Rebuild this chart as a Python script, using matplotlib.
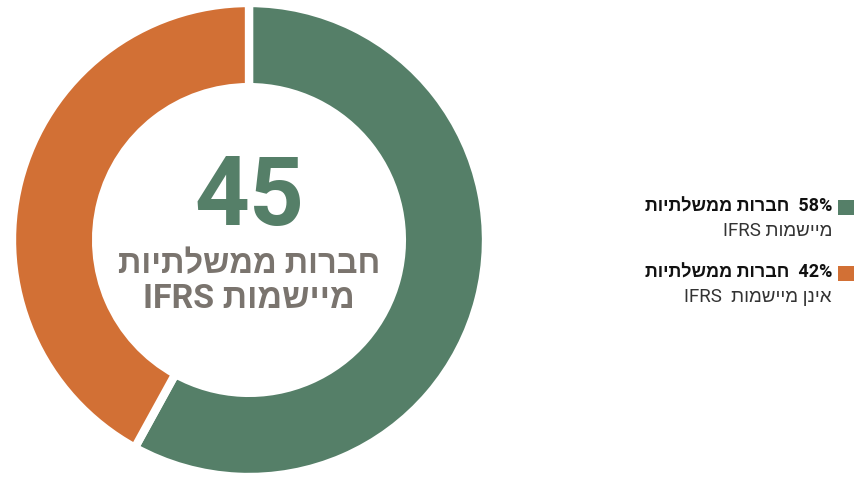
import matplotlib
matplotlib.use("Agg")
import matplotlib.pyplot as plt

# Data
labels = ["חברות ממשלתיות מיישמות IFRS", "חברות ממשלתיות אינן מיישמות IFRS"]
values = [58, 42]
colors = ["#557f68", "#d27035"]
center_number = "45"
center_line1 = "חברות ממשלתיות"
center_line2_heb = "מיישמות"
legend_pcts = ["58%", "42%"]
legend_line1 = "חברות ממשלתיות"
legend_line2_heb = ["מיישמות", "אינן מיישמות"]

FAM = ['Roboto', 'Liberation Sans', 'DejaVu Sans']


def vis(s):
    """Visual (LTR) order for a pure Hebrew string."""
    return s[::-1]


fig = plt.figure(figsize=(8.56, 4.8), dpi=100)
fig.patch.set_facecolor("white")

ax = fig.add_axes([12 / 856, 3 / 480, 474 / 856, 474 / 480])
ax.pie(values, colors=colors, startangle=90, counterclock=False, radius=1.0,
       wedgeprops=dict(width=0.355, edgecolor="white", linewidth=6))
ax.set_xlim(-1.0, 1.0)
ax.set_ylim(-1.0, 1.0)
ax.set_aspect("equal")
ax.axis("off")

# Center texts
ax.text(0, 0.171, center_number, ha="center", va="center", fontsize=69,
        fontweight="bold", color="#557f68", family=FAM)
ax.text(0, -0.101, vis(center_line1), ha="center", va="center", fontsize=23.5,
        fontweight="bold", color="#7a746e", family=FAM)
ax.text(0, -0.249, "IFRS " + vis(center_line2_heb), ha="center", va="center",
        fontsize=24.5, fontweight="bold", color="#7a746e", family=FAM)

# Legend
ys = [207.5, 273.5]
for i in range(2):
    y = ys[i]
    fig.patches.append(plt.Rectangle((838 / 856, 1 - (y + 7.5) / 480), 16 / 856, 15 / 480,
                                     transform=fig.transFigure, facecolor=colors[i],
                                     edgecolor="none"))
    fig.text(832 / 856, 1 - (y - 1) / 480, vis(legend_line1) + "  " + legend_pcts[i],
             ha="right", va="center", fontsize=13, fontweight="bold",
             color="#111111", family=FAM)
    fig.text(832 / 856, 1 - (y + 23) / 480,
             "IFRS " + ("" if i == 0 else " ") + vis(legend_line2_heb[i]),
             ha="right", va="center", fontsize=13.5, color="#333333", family=FAM)

fig.savefig("out.png", dpi=100, facecolor="white")
